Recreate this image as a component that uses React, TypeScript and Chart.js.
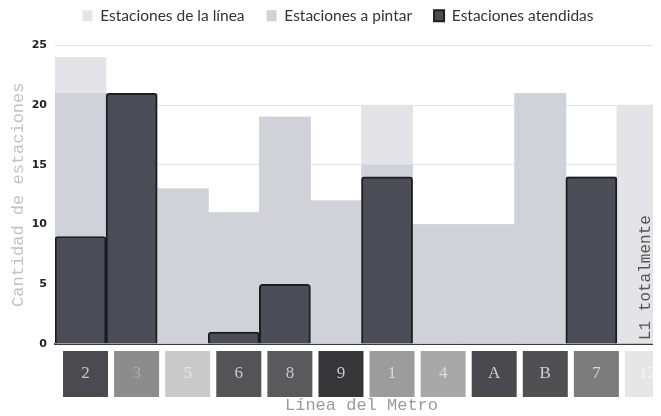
import React, { useEffect, useRef } from "react";
import { Chart, registerables } from "chart.js";

Chart.register(...registerables);

const categories = ["2", "3", "5", "6", "8", "9", "1", "4", "A", "B", "7", "12"];
const estacionesLinea = [24, 21, 13, 11, 19, 12, 20, 10, 10, 21, 14, 20];
const estacionesPintar = [21, 21, 13, 11, 19, 12, 15, 10, 10, 21, 14, 0];
const estacionesAtendidas = [9, 21, 0, 1, 5, 0, 14, 0, 0, 0, 14, 0];
const boxColors = ["#4b4b4f", "#8c8c8c", "#c9c9c9", "#545456", "#5a5a5c", "#363638", "#9c9c9c", "#a8a8a8", "#4a4a4e", "#505052", "#7c7c7c", "#e6e6e6"];
const boxTextColors = ["#c8c8c8", "#b0b0b0", "#e8e8e8", "#c8c8c8", "#c8c8c8", "#c8c8c8", "#dcdcdc", "#dcdcdc", "#d0d0d0", "#d0d0d0", "#d8d8d8", "#f4f4f4"];
const annotationText = "L1 totalmente";
const annotationIndex = 11;

const mono = "'Liberation Mono', 'DejaVu Sans Mono', monospace";
const LEGEND_EXTRA = 12;

export default function App() {
  const ref = useRef<HTMLCanvasElement | null>(null);
  useEffect(() => {
    if (!ref.current) return;
    const legendSpacer = {
      id: "legendSpacer",
      beforeInit(chart: any) {
        const lg = chart.legend;
        if (!lg) return;
        const orig = lg.fit;
        lg.fit = function () {
          orig.call(this);
          this.height += LEGEND_EXTRA;
        };
      },
    };
    const boxesPlugin = {
      id: "boxes",
      afterDatasetsDraw(chart: any) {
        const ctx = chart.ctx;
        const xs = chart.scales.x;
        const area = chart.chartArea;
        const ax = xs.getPixelForValue(annotationIndex) + 3;
        ctx.save();
        ctx.translate(ax, area.bottom - 4);
        ctx.rotate(-Math.PI / 2);
        ctx.font = `16px ${mono}`;
        ctx.fillStyle = "#555";
        ctx.textAlign = "left";
        ctx.textBaseline = "middle";
        ctx.fillText(annotationText, 0, 0);
        ctx.restore();
      },
      afterDraw(chart: any) {
        const ctx = chart.ctx;
        const xs = chart.scales.x;
        const area = chart.chartArea;
        ctx.save();
        categories.forEach((c, i) => {
          const cx = xs.getPixelForValue(i) + 5;
          const w = 45;
          const top = area.bottom + 7;
          const h = 46;
          ctx.fillStyle = boxColors[i];
          ctx.fillRect(cx - w / 2, top, w, h);
          ctx.fillStyle = boxTextColors[i];
          ctx.font = "17px 'Liberation Serif', serif";
          ctx.textAlign = "center";
          ctx.textBaseline = "middle";
          ctx.fillText(c, cx, top + h / 2);
        });
        ctx.restore();
      },
    };
    const chart = new Chart(ref.current, {
      type: "bar",
      data: {
        labels: categories,
        datasets: [
          {
            label: "Estaciones de la línea",
            data: estacionesLinea,
            backgroundColor: "#e4e4e8",
            borderWidth: 0,
            order: 2,
          },
          {
            label: "Estaciones a pintar",
            data: estacionesPintar,
            backgroundColor: "#d1d1d9",
            borderWidth: 0,
            order: 1,
          },
          {
            label: "Estaciones atendidas",
            data: estacionesAtendidas,
            backgroundColor: "#4d4d57",
            borderColor: "#1e1e22",
            borderWidth: 2,
            borderRadius: 3,
            borderSkipped: "bottom",
            order: 0,
          },
        ],
      },
      options: {
        responsive: true,
        maintainAspectRatio: false,
        animation: false,
        datasets: {
          bar: { grouped: false, categoryPercentage: 1, barPercentage: 1 },
        },
        plugins: {
          legend: {
            position: "top",
            labels: {
              boxWidth: 10,
              boxHeight: 11,
              padding: 22,
              color: "#333",
              font: { family: "Lato, 'Noto Sans', sans-serif", size: 15.5 },
              sort: (a: any, b: any) => a.datasetIndex - b.datasetIndex,
            },
          },
          tooltip: { enabled: false },
        },
        scales: {
          x: {
            grid: { display: false },
            border: { display: true, color: "#3a3a3a", width: 2 },
            ticks: { display: false },
            title: {
              display: true,
              text: "Línea del Metro",
              color: "#9a9a9a",
              font: { family: mono, size: 17 },
              padding: { top: 0, bottom: 0 },
            },
            afterFit: (scale: any) => {
              scale.height = 72;
            },
          },
          y: {
            min: 0,
            max: 25,
            ticks: {
              stepSize: 5,
              color: "#222",
              padding: 8,
              font: { family: "'DejaVu Sans', sans-serif", size: 11, weight: "bold" },
            },
            grid: { color: "#e2e2e2", drawTicks: false },
            border: { display: false },
            title: {
              display: true,
              text: "Cantidad de estaciones",
              color: "#c2c2c2",
              font: { family: mono, size: 17 },
              padding: { top: 0, bottom: 0 },
            },
            afterFit: (scale: any) => {
              scale.width = 47;
            },
          },
        },
      },
      plugins: [legendSpacer, boxesPlugin],
    });
    return () => chart.destroy();
  }, []);
  return (
    <div style={{ width: 660, height: 430, marginTop: -22, position: "relative" }}>
      <canvas ref={ref} />
    </div>
  );
}
